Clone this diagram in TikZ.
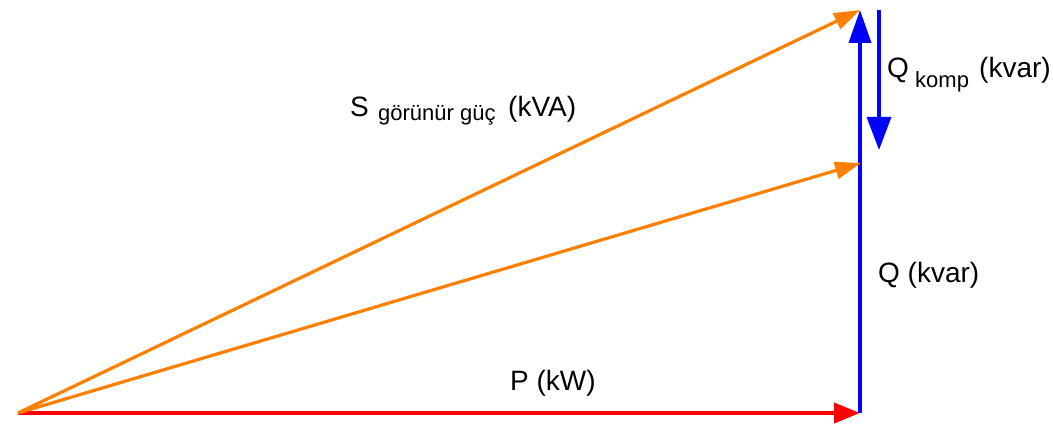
\documentclass[tikz,border=0pt]{standalone}
\usepackage{fontspec}
\setmainfont{Liberation Sans}
\usetikzlibrary{arrows.meta}
\definecolor{vorange}{HTML}{FF8000}
\definecolor{vblue}{HTML}{0000FF}
\definecolor{vred}{HTML}{FF0000}
\tikzset{
  vec/.style={line width=#1, -{Triangle[length=26pt,width=20pt]}},
  svec/.style={draw=vorange, line width=3.2pt, -{Triangle[length=26pt,width=17pt]}},
  lbl/.style={inner sep=0pt, anchor=base west, font=\fontsize{28}{32}\selectfont},
  sub/.style={inner sep=0pt, anchor=base west, font=\fontsize{22}{26}\selectfont},
}
\begin{document}
\begin{tikzpicture}[x=1pt,y=-1pt]
\useasboundingbox (0,0) rectangle (1053,425);
\coordinate (O) at (18,413);
\coordinate (P) at (860,413);
\coordinate (Stop) at (860,10);
\coordinate (Smid) at (861,163);
\coordinate (Ka) at (879,10);
\coordinate (Kb) at (879,150);
% vectors
\draw[vec=4pt, draw=vred, fill=vred] (O) -- (P);
\draw[vec=3.6pt, draw=vblue, -{Triangle[length=33pt,width=22pt]}] (P) -- (Stop);
\draw[vec=3.2pt, draw=vblue, -{Triangle[length=33pt,width=24pt]}] (Ka) -- (Kb);
\draw[svec] (O) -- (Stop);
\draw[svec] (O) -- (Smid);
% labels
\node[lbl] (sl) at (350,117) {S};
\node[sub] (ss) at (378,121) {görünür güç};
\node[lbl] (su) at (508,117) {(kVA)};
\node[lbl] (ql) at (887,78) {Q};
\node[sub] (qs) at (915,88) {komp};
\node[lbl] (qu) at (979,78) {(kvar)};
\node[lbl] (q2) at (878,282) {Q (kvar)};
\node[lbl] (pl) at (510,390) {P (kW)};
\end{tikzpicture}
\end{document}
